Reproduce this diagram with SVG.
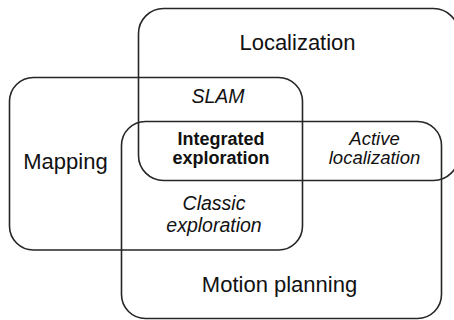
<svg xmlns="http://www.w3.org/2000/svg" width="454" height="320" viewBox="0 0 454 320">
  <style>
    .set { fill: none; stroke: #262626; stroke-width: 1.6; }
    text { font-family: "Liberation Sans", Arial, sans-serif; fill: #111; text-anchor: middle; }
    .big { font-size: 22px; }
    .it { font-size: 19.5px; font-style: italic; }
    .it2 { font-size: 18.5px; font-style: italic; }
    .bold { font-size: 18px; font-weight: bold; }
  </style>
  <rect width="454" height="320" fill="#fff"/>

  <!-- Set outlines -->
  <g id="localization">
    <rect class="set" x="138.5" y="8.5" width="320" height="172" rx="25"/>
    <text class="big" x="297.5" y="50">Localization</text>
  </g>
  <g id="mapping">
    <rect class="set" x="9.5" y="77.5" width="293" height="172.5" rx="24"/>
    <text class="big" x="65.5" y="169">Mapping</text>
  </g>
  <g id="motion-planning">
    <rect class="set" x="121.5" y="121.5" width="320" height="197" rx="24"/>
    <text class="big" x="279.5" y="292">Motion planning</text>
  </g>

  <!-- Intersection labels -->
  <g id="slam">
    <text class="it" x="218" y="103">SLAM</text>
  </g>
  <g id="integrated-exploration">
    <text class="bold" x="221" y="145">Integrated</text>
    <text class="bold" x="221" y="164">exploration</text>
  </g>
  <g id="active-localization">
    <text class="it2" x="374.5" y="145">Active</text>
    <text class="it2" x="374.5" y="164">localization</text>
  </g>
  <g id="classic-exploration">
    <text class="it" x="214" y="210">Classic</text>
    <text class="it" x="214" y="231.5">exploration</text>
  </g>
</svg>
